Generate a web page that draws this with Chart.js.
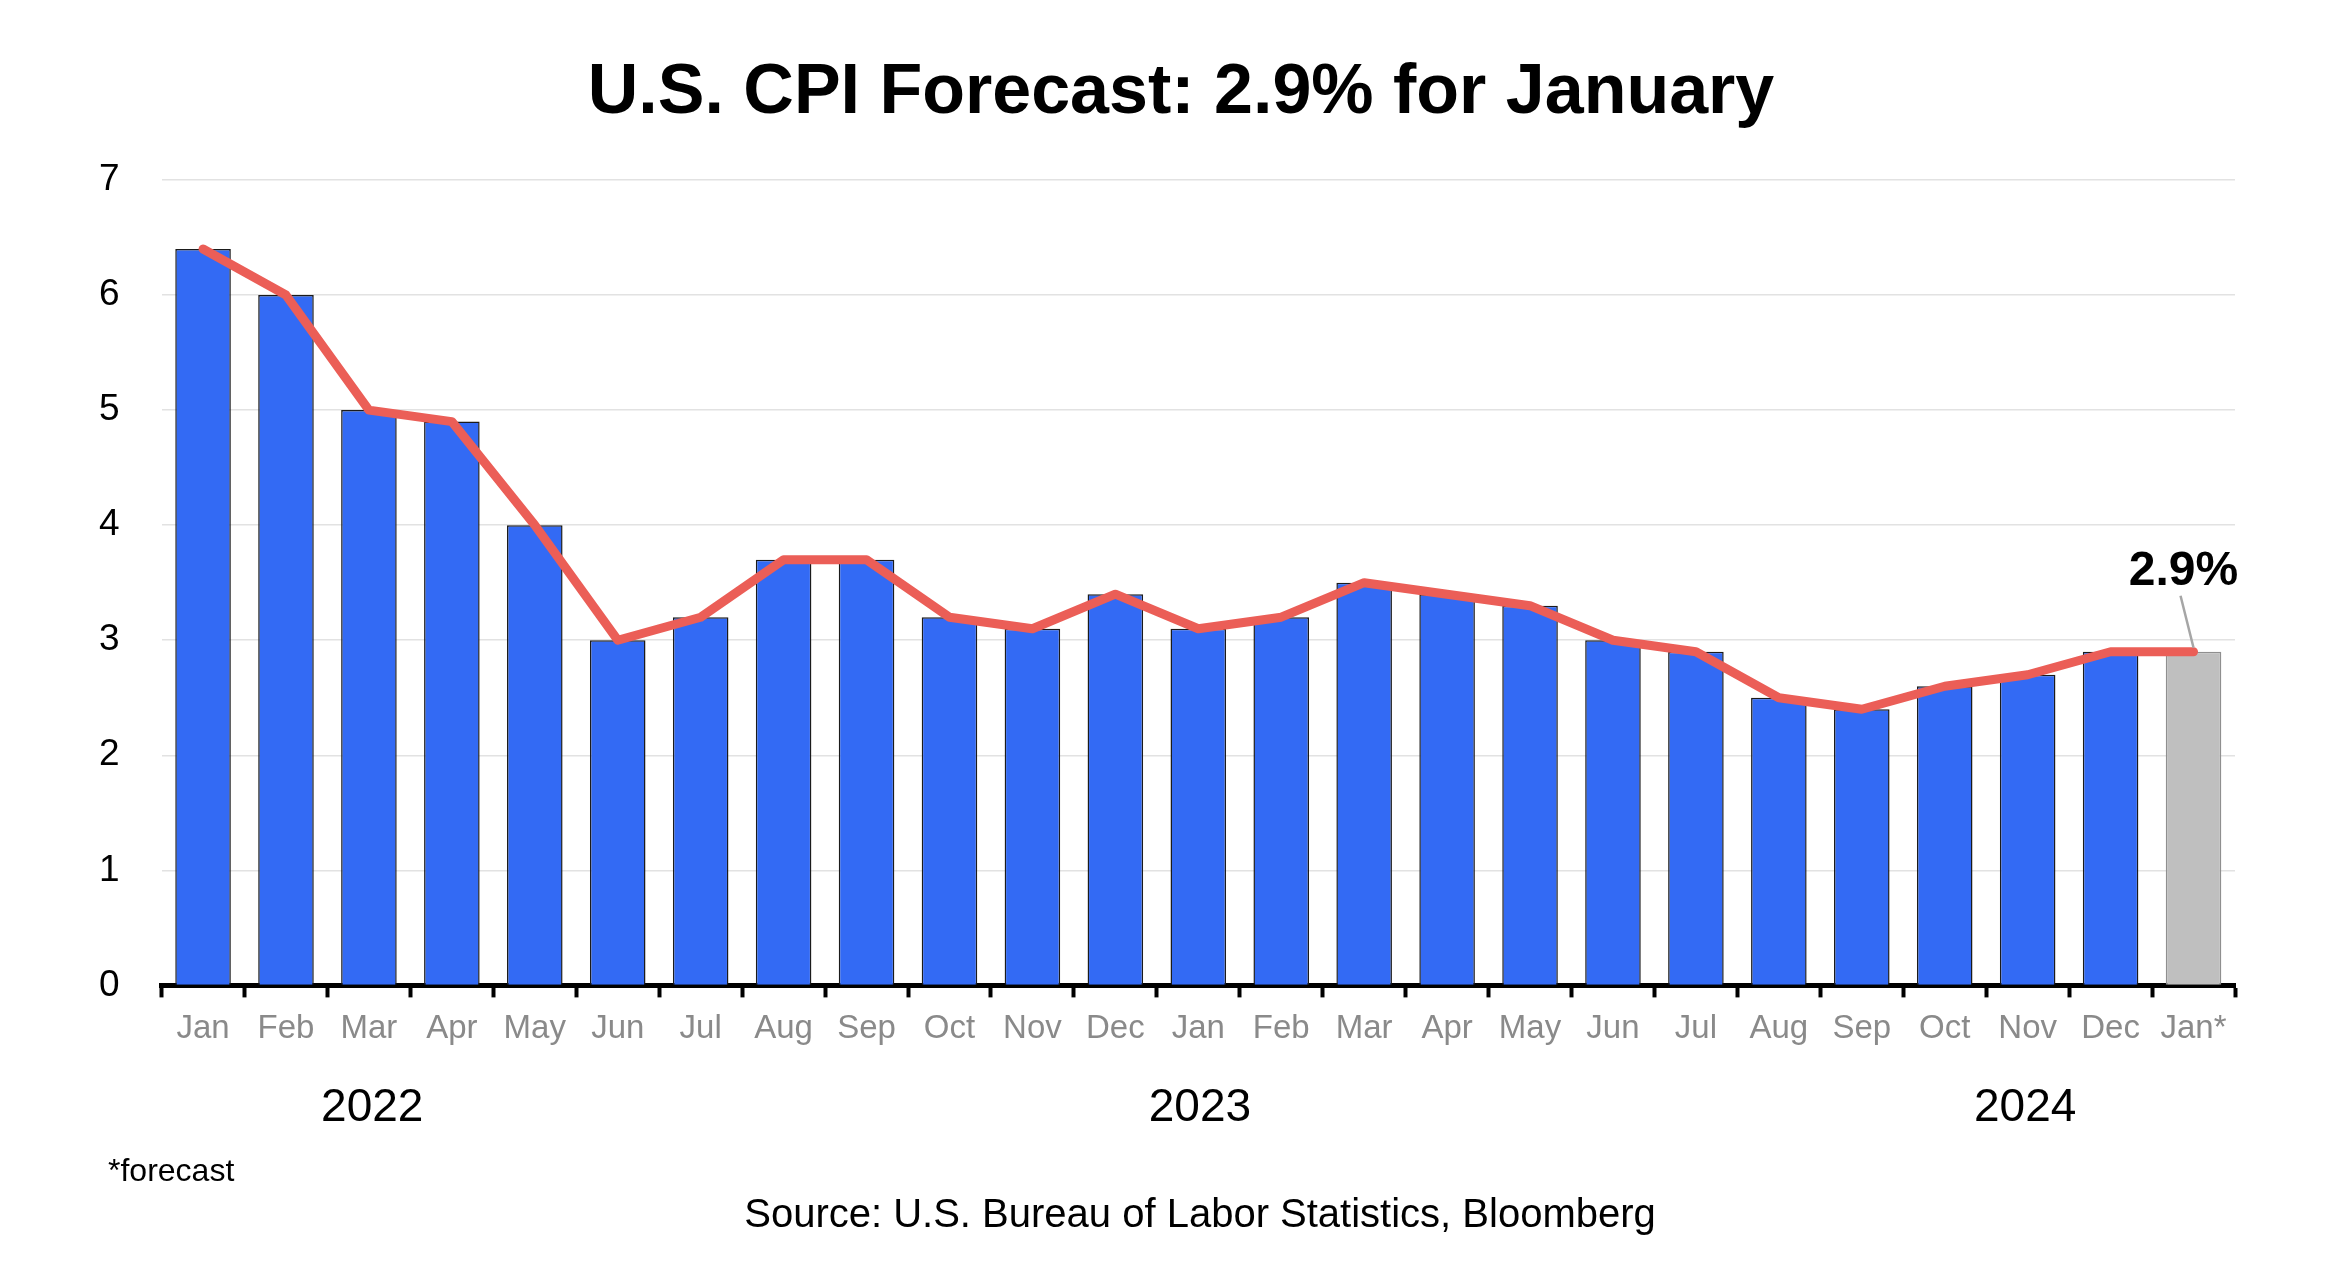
<!DOCTYPE html>
<html lang="es">
<head>
<meta charset="UTF-8">
<title>U.S. CPI Forecast</title>
<script src="https://cdn.jsdelivr.net/npm/chart.js@4.4.1/dist/chart.umd.min.js"></script>
<style>
    body { margin: 0; background: #ffffff; }
    canvas { display: block; }
</style>
</head>
<body>
<canvas id="grafico" width="2328" height="1266"></canvas>
<script>
// Datos
const meses = ['Jan', 'Feb', 'Mar', 'Apr', 'May', 'Jun', 'Jul', 'Aug', 'Sep', 'Oct', 'Nov', 'Dec',
               'Jan', 'Feb', 'Mar', 'Apr', 'May', 'Jun', 'Jul', 'Aug', 'Sep', 'Oct', 'Nov', 'Dec', 'Jan*'];
const valoresIPC = [6.4, 6.0, 5.0, 4.9, 4.0, 3.0, 3.2, 3.7, 3.7, 3.2, 3.1, 3.4,
                    3.1, 3.2, 3.5, 3.4, 3.3, 3.0, 2.9, 2.5, 2.4, 2.6, 2.7, 2.9, 2.9];
const valoresLinea = [6.4, 6.0, 5.0, 4.9, 4.0, 3.0, 3.2, 3.7, 3.7, 3.2, 3.1, 3.4,
                      3.1, 3.2, 3.5, 3.4, 3.3, 3.0, 2.9, 2.5, 2.4, 2.6, 2.7, 2.9, 2.9];
const ticksY = [0, 1, 2, 3, 4, 5, 6, 7];
const anios = ['2022', '2023', '2024'];
const etiquetaPronostico = '2.9%';

// La última barra (pronóstico) va en gris
const indicePronostico = meses.length - 1;
const coloresBarras = meses.map((m, i) => i === indicePronostico ? '#bfbfbf' : '#336af4');
const bordesBarras = meses.map((m, i) => i === indicePronostico ? '#8f8f8f' : '#1b1b1b');

const fuente = '"Liberation Sans", Arial, sans-serif';

// Textos sueltos: título, años, nota, fuente y la etiqueta del pronóstico
const textosExtra = {
    id: 'textosExtra',
    afterDraw(chart) {
        const { ctx, scales: { x, y } } = chart;
        ctx.save();
        ctx.textAlign = 'center';
        ctx.textBaseline = 'middle';
        ctx.fillStyle = '#000000';

        // título (dibujado a mano para centrarlo como en el original)
        ctx.font = `bold 70px ${fuente}`;
        ctx.fillText('U.S. CPI Forecast: 2.9% for January', 1181, 94);

        // años (posición aproximada como en el original)
        const posAnios = [2.04, 12.02, 21.97];
        ctx.font = `46px ${fuente}`;
        anios.forEach((anio, i) => {
            ctx.fillText(anio, x.getPixelForValue(posAnios[i]), 1108);
        });

        // línea guía y etiqueta del pronóstico
        const px = x.getPixelForValue(indicePronostico);
        const py = y.getPixelForValue(valoresLinea[indicePronostico]);
        ctx.strokeStyle = '#a6a6a6';
        ctx.lineWidth = 2.5;
        ctx.beginPath();
        ctx.moveTo(px - 13, py - 56);
        ctx.lineTo(px, py - 4);
        ctx.stroke();

        ctx.font = `bold 48px ${fuente}`;
        ctx.fillText(etiquetaPronostico, px - 10, py - 80);

        // nota y fuente
        ctx.font = `32px ${fuente}`;
        ctx.textAlign = 'left';
        ctx.fillText('*forecast', 108, 1172);

        ctx.font = `40px ${fuente}`;
        ctx.textAlign = 'center';
        ctx.fillText('Source: U.S. Bureau of Labor Statistics, Bloomberg', 1200, 1216);

        ctx.restore();
    }
};

const ctx = document.getElementById('grafico').getContext('2d');

const miGrafico = new Chart(ctx, {
    type: 'bar',
    data: {
        labels: meses,
        datasets: [
            {
                type: 'line',
                data: valoresLinea,
                borderColor: '#eb5e57',
                borderWidth: 9,
                borderCapStyle: 'round',
                borderJoinStyle: 'round',
                pointRadius: 0,
                tension: 0,
                order: 0
            },
            {
                data: valoresIPC,
                backgroundColor: coloresBarras,
                borderColor: bordesBarras,
                borderWidth: 1.5,
                categoryPercentage: 1,
                barPercentage: 0.67,
                order: 1
            }
        ]
    },
    options: {
        responsive: false,
        animation: false,
        devicePixelRatio: 1,
        layout: {
            padding: { top: 180, right: 93, bottom: 205, left: 57 }
        },
        scales: {
            x: {
                grid: {
                    display: true,
                    drawOnChartArea: false,
                    drawTicks: true,
                    tickLength: 12,
                    tickWidth: 4,
                    tickColor: '#000000'
                },
                border: { display: true, color: '#000000', width: 5 },
                ticks: {
                    color: '#8a8a8a',
                    font: { family: fuente, size: 33 },
                    padding: 12,
                    maxRotation: 0,
                    autoSkip: false
                }
            },
            y: {
                min: 0,
                max: 7,
                afterBuildTicks: (eje) => {
                    eje.ticks = ticksY.map(v => ({ value: v }));
                },
                grid: {
                    color: '#e2e2e2',
                    lineWidth: 1.5,
                    drawTicks: false
                },
                border: { display: false },
                ticks: {
                    color: '#000000',
                    font: { family: fuente, size: 37 },
                    padding: 42
                }
            }
        },
        plugins: {
            legend: { display: false },
            tooltip: { enabled: false },
            title: { display: false }
        }
    },
    plugins: [textosExtra]
});
</script>
</body>
</html>
